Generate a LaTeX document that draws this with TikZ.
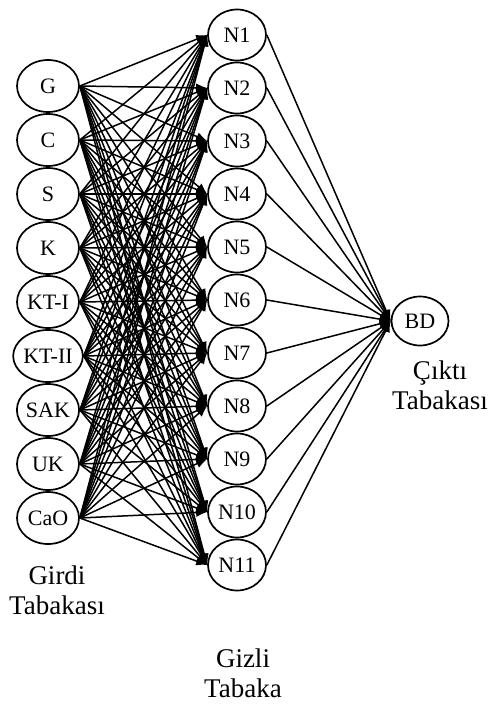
\documentclass[tikz,border=0pt]{standalone}
\usepackage{fontspec}
\setmainfont{Liberation Serif}
\usetikzlibrary{shapes.geometric,arrows.meta}
\begin{document}
\begin{tikzpicture}[x=1pt,y=-1pt,
 neuron/.style={draw, ellipse, line width=1.7pt, inner sep=0pt, font=\fontsize{22}{22}\selectfont},
 inp/.style={neuron, minimum width=62pt, minimum height=52pt},
 hid/.style={neuron, minimum width=58pt, minimum height=51pt},
 conn/.style={line width=1.5pt, -{Latex[length=11pt,width=9pt]}},
 lab/.style={font=\fontsize{27}{30}\selectfont, align=center}]
\useasboundingbox (0,0) rectangle (491,709);
\foreach \t [count=\i] in {G,C,S,K,KT-I,KT-II,SAK,UK,CaO}
  \node[inp] (i\i) at (48,{86+54*(\i-1)}) {\t};
\foreach \i in {1,...,11}
  \node[hid] (h\i) at (237,{35+53*(\i-1)}) {N\i};
\node[neuron, minimum width=57pt, minimum height=49pt] (o) at (420,321) {BD};
\foreach \i in {1,...,9}
  \foreach \j in {1,...,11}
    \draw[conn] (i\i.east) -- (h\j.west);
\foreach \j in {1,...,11}
  \draw[conn] (h\j.east) -- (o.west);
\node[lab] (lin) at (57,590) {Girdi\\Tabakası};
\node[lab] (lhid) at (243,673) {Gizli\\Tabaka};
\node[lab] (lout) at (440,385) {Çıktı\\Tabakası};
\end{tikzpicture}
\end{document}
